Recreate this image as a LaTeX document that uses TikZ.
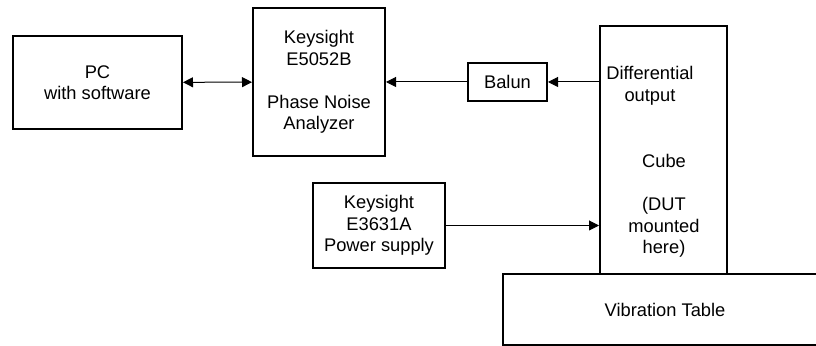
\documentclass[tikz,border=0pt]{standalone}
\usepackage{fontspec}
\setmainfont{Liberation Sans}
\usetikzlibrary{arrows.meta, positioning}

\begin{document}
\begin{tikzpicture}[x=0.5pt,y=-0.5pt, every node/.style={font=\fontsize{9.15}{10.75}\selectfont, align=center},
    box/.style={draw, rectangle, line width=1pt, inner sep=0pt},
    link/.style={line width=0.5pt, -{Triangle[length=5pt,width=5pt]}}]
    \useasboundingbox (0,0) rectangle (816,346);
    \node[box, minimum width=84.5pt, minimum height=46.5pt] (pc) at (97.5,82.5) {PC\\with software};
    \node[box, minimum width=66pt, minimum height=74pt] (analyzer) at (319,82) {Keysight\\E5052B\\\\Phase Noise\\Analyzer};
    \node[box, minimum width=39.5pt, minimum height=19pt] (balun) at (507.5,82) {Balun};
    \node[box, minimum width=63.5pt, minimum height=124pt] (cube) at (663.5,150) {};
    \node (diffout) at (650,86) {Differential\\output};
    \node (cubetext) at (664,206) {Cube\\\\(DUT\\mounted\\here)};
    \node[box, minimum width=66pt, minimum height=42.5pt] (supply) at (379,225.5) {Keysight\\E3631A\\Power supply};
    \node[box, minimum width=162pt, minimum height=35.5pt] (table) at (665,309.75) {Vibration Table};
    \draw[link, {Triangle[length=5pt,width=5pt]}-{Triangle[length=5pt,width=5pt]}] (pc) -- (analyzer);
    \draw[link] (balun -| cube.west) -- (balun);
    \draw[link] (balun) -- (analyzer);
    \draw[link] (supply) -- (supply -| cube.west);
\end{tikzpicture}
\end{document}
